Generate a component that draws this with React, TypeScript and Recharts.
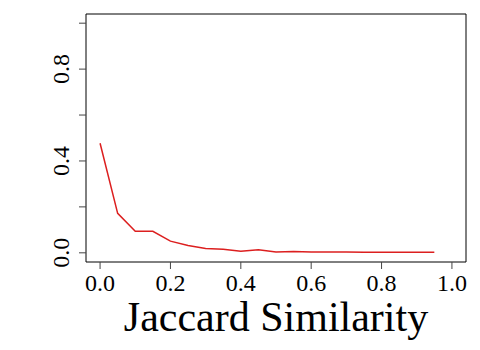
import { LineChart, Line, XAxis, YAxis, ReferenceArea } from "recharts";

const similarity = [0, 0.05, 0.1, 0.15, 0.2, 0.25, 0.3, 0.35, 0.4, 0.45, 0.5, 0.55, 0.6, 0.65, 0.7, 0.75, 0.8, 0.85, 0.9, 0.95];
const fraction = [0.477, 0.172, 0.094, 0.094, 0.051, 0.032, 0.019, 0.016, 0.007, 0.013, 0.004, 0.006, 0.004, 0.004, 0.004, 0.003, 0.002, 0.002, 0.002, 0.003];
const xTicks = [0, 0.2, 0.4, 0.6, 0.8, 1.0];
const yTicks = [0, 0.2, 0.4, 0.6, 0.8, 1.0];
const yLabelled = [0, 0.4, 0.8];

const data = similarity.map((s, i) => ({ s, v: fraction[i] }));

const FONT = '"Liberation Serif", "Times New Roman", serif';

function XTick(props: any) {
  const { x, y, payload } = props;
  return (
    <text x={x} y={y + 20} textAnchor="middle" fontFamily={FONT} fontSize={24} fill="#000">
      {payload.value.toFixed(1)}
    </text>
  );
}

function YTick(props: any) {
  const { x, y, payload } = props;
  if (!yLabelled.some((t) => Math.abs(t - payload.value) < 1e-9)) return null;
  const cx = x - 16;
  return (
    <text
      x={cx}
      y={y}
      dy="0.34em"
      textAnchor="middle"
      transform={`rotate(-90, ${cx}, ${y})`}
      fontFamily={FONT}
      fontSize={24}
      fill="#000"
    >
      {payload.value.toFixed(1)}
    </text>
  );
}

export default function App() {
  return (
    <div style={{ position: "absolute", left: 0, top: 0, background: "#fff" }}>
      <LineChart width={480} height={350} data={data} margin={{ top: 14, right: 14, bottom: 0, left: 0 }}>
        <XAxis
          dataKey="s"
          type="number"
          domain={[-0.04, 1.04]}
          ticks={xTicks}
          height={88}
          axisLine={false}
          tickSize={7}
          tickMargin={2}
          tickLine={{ stroke: "#444" }}
          tick={<XTick />}
          allowDataOverflow
          label={{
            value: "Jaccard Similarity",
            position: "insideBottom",
            offset: 19,
            style: { fontFamily: FONT, fontSize: 42, fill: "#000" },
          }}
        />
        <YAxis
          type="number"
          domain={[-0.04, 1.04]}
          ticks={yTicks}
          width={86}
          axisLine={false}
          tickSize={7}
          tickMargin={2}
          tickLine={{ stroke: "#444" }}
          tick={<YTick />}
          allowDataOverflow
        />
        <ReferenceArea x1={-0.04} x2={1.04} y1={-0.04} y2={1.04} stroke="#000" strokeWidth={1} fill="none" fillOpacity={0} ifOverflow="visible" />
        <Line dataKey="v" type="linear" stroke="#dc1f1f" strokeWidth={1.5} dot={false} isAnimationActive={false} />
      </LineChart>
    </div>
  );
}
